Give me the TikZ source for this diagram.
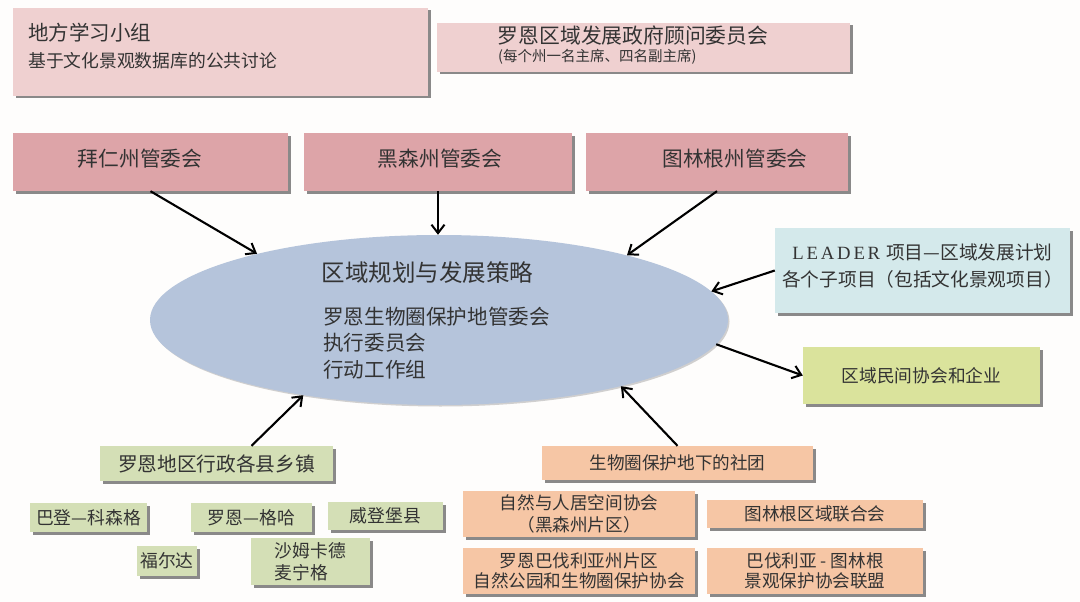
\documentclass[tikz,border=0pt]{standalone}
\usepackage{fontspec}
\setmainfont{Noto Sans CJK SC}
\newfontfamily\leaderfont{Liberation Serif}[LetterSpace=15]
\usetikzlibrary{shapes.geometric,arrows.meta,shadows,calc}
\newcommand\fsz[2]{\fontsize{#1}{#2}\selectfont}
\definecolor{lpink}{HTML}{EFD0D0}
\definecolor{rpink}{HTML}{DDA4A8}
\definecolor{ellc}{HTML}{B5C4DB}
\definecolor{leadc}{HTML}{D4E9EB}
\definecolor{civc}{HTML}{DAE39C}
\definecolor{grn}{HTML}{D4DFB6}
\definecolor{org}{HTML}{F6C6A5}
\definecolor{txt}{HTML}{333333}
\definecolor{bg}{HTML}{FEFDFC}
\tikzset{
  box/.style={rectangle, draw=none, inner sep=0pt, text=txt, align=center,
    drop shadow={shadow xshift=2.5pt, shadow yshift=-2.5pt, fill=black!65, opacity=0.7}},
  lbl/.style={inner sep=0pt, text=txt},
  arr/.style={-{Straight Barb[length=8.5pt,width=13pt,line width=2pt]}, line width=2.1pt, black},
}
\begin{document}
\begin{tikzpicture}[x=1pt,y=-1pt]
\fill[bg] (0,0) rectangle (1080,602);
\useasboundingbox (0,0) rectangle (1080,602);

% top info boxes
\node[box, fill=lpink, minimum width=415pt, minimum height=88pt] (lg) at (220.5,52) {};
\node[lbl, anchor=west, font=\fsz{20.5}{24}] (lgt1) at (28,33) {地方学习小组};
\node[lbl, anchor=west, font=\fsz{17.8}{22}] (lgt2) at (28,61) {基于文化景观数据库的公共讨论};

\node[box, fill=lpink, minimum width=413pt, minimum height=49pt] (adv) at (643.5,47.5) {};
\node[lbl, font=\fsz{20.8}{24}] (advt1) at (633,36) {罗恩区域发展政府顾问委员会};
\node[lbl, anchor=west, font=\fsz{14.5}{17}] (advt2) at (498,57) {(每个州一名主席、四名副主席)};

% state committees
\node[box, fill=rpink, minimum width=275pt, minimum height=58pt] (bay) at (150.5,162) {};
\node[lbl, font=\fsz{20.7}{24}] (bayt) at (140,159) {拜仁州管委会};
\node[box, fill=rpink, minimum width=268pt, minimum height=58pt] (hes) at (438,162) {};
\node[lbl, font=\fsz{20.7}{24}] (hest) at (440,159) {黑森州管委会};
\node[box, fill=rpink, minimum width=262pt, minimum height=58pt] (thu) at (717,162) {};
\node[lbl, font=\fsz{20.7}{24}] (thut) at (735,159) {图林根州管委会};

% central ellipse
\node[ellipse, draw=none, fill=ellc, minimum width=578pt, minimum height=170pt, inner sep=0pt,
  drop shadow={shadow xshift=1.5pt, shadow yshift=-1.5pt, fill=black!40, opacity=0.45}] (core) at (439,320) {};
\node[lbl, font=\fsz{23.5}{27}] (coret) at (427.5,273) {区域规划与发展策略};
\node[lbl, anchor=west, align=left, font=\fsz{20.6}{26.5}] (corel) at (323,343)
  {罗恩生物圈保护地管委会\\执行委员会\\行动工作组};

% right side
\node[box, fill=leadc, minimum width=295pt, minimum height=85pt] (lead) at (922.5,270.5) {};
\node[lbl, align=center, font=\fsz{18.7}{27}] (leadt) at (922.5,266.5)
  {{\leaderfont LEADER}\hspace{6pt}项目—区域发展计划\\各个子项目（包括文化景观项目）};
\node[box, fill=civc, minimum width=237pt, minimum height=57pt, font=\fsz{17.7}{21}] (civ) at (921.5,375.5) {区域民间协会和企业};

% administrative
\node[box, fill=grn, minimum width=233pt, minimum height=35pt, font=\fsz{19.7}{23}] (adm) at (216.5,463.5) {罗恩地区行政各县乡镇};
\node[box, fill=grn, minimum width=117pt, minimum height=29pt, font=\fsz{17.8}{21}] (bk) at (88.5,517.5) {巴登—科森格};
\node[box, fill=grn, minimum width=121pt, minimum height=29pt, font=\fsz{17.8}{21}] (rg) at (251.5,517.5) {罗恩—格哈};
\node[box, fill=grn, minimum width=115pt, minimum height=28pt, font=\fsz{17.8}{21}] (wd) at (385.5,516) {威登堡县};
\node[box, fill=grn, minimum width=60pt, minimum height=30pt, font=\fsz{17.8}{21}] (fd) at (167,561) {福尔达};
\node[box, fill=grn, minimum width=119pt, minimum height=47pt, align=left, font=\fsz{17.8}{22}] (sm) at (310.5,561.5) {沙姆卡德\\麦宁格};

% associations
\node[box, fill=org, minimum width=271pt, minimum height=34pt, font=\fsz{17.6}{21}] (club) at (677.5,463) {生物圈保护地下的社团};
\node[box, fill=org, minimum width=232pt, minimum height=46pt, font=\fsz{17.6}{21.5}] (nat) at (579,514) {自然与人居空间协会\\（黑森州片区）};
\node[box, fill=org, minimum width=216pt, minimum height=28pt, font=\fsz{17.6}{21}] (tra) at (815,514) {图林根区域联合会};
\node[box, fill=org, minimum width=232pt, minimum height=46pt, font=\fsz{17.6}{20.5}] (rba) at (579,571) {罗恩巴伐利亚州片区\\自然公园和生物圈保护协会};
\node[box, fill=org, minimum width=216pt, minimum height=46pt, font=\fsz{17.6}{20.5}] (btl) at (815,571) {巴伐利亚 - 图林根\\景观保护协会联盟};

% arrows
\draw[arr] (bay.south) -- (core.160);
\draw[arr] (hes.south) -- (hes.south |- core.north);
\draw[arr] (thu.south) -- (core.19);
\draw[arr] (lead.west) -- (core.6.5);
\draw[arr] (core.-5.5) -- (civ.west);
\draw[arr] ($(adm.north)!0.3!(adm.north east)$) -- (core.209);
\draw[arr] (club.north) -- (core.340);
\end{tikzpicture}
\end{document}
